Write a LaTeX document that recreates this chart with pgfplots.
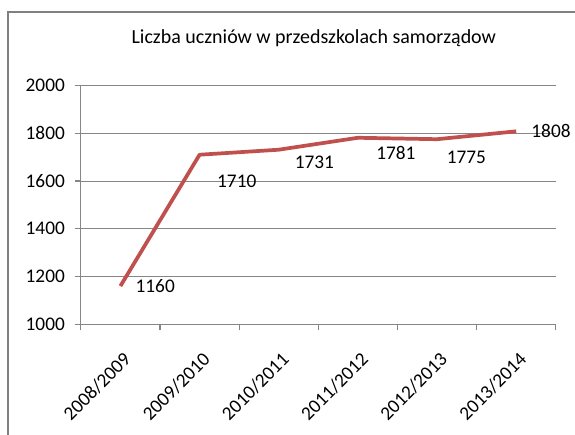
\documentclass[border=0pt]{standalone}
\usepackage{pgfplots}
\pgfplotsset{compat=1.18}
\usepackage{fontspec}
\setmainfont{Carlito}
\definecolor{exred}{RGB}{192,80,77}
\definecolor{exgrid}{RGB}{134,134,134}
\definecolor{exframe}{RGB}{128,128,128}
\begin{document}
\begin{tikzpicture}
\begin{axis}[%
at={(0,0)}, anchor=south west,
width=357pt,
height=179.5pt,
scale only axis,
xmin=-0.5, xmax=5.5,
ymin=1000, ymax=2000,
ytick={1000,1200,...,2000},
xtick={-0.5,0.5,...,5.5},
xticklabels={},
extra x ticks={0,1,2,3,4,5},
extra x tick labels={2008/2009,2009/2010,2010/2011,2011/2012,2012/2013,2013/2014},
extra x tick style={major tick length=0pt, grid=none,
  xticklabel style={rotate=45, anchor=north east, inner sep=1pt, xshift=-12pt, yshift=-14pt}},
axis lines*=left,
axis line style={exgrid, line width=0.8pt},
tick style={exgrid, line width=0.8pt},
tick align=outside,
major tick length=4.5pt,
ymajorgrids,
grid style={exgrid, line width=0.7pt},
ticklabel style={font=\fontsize{14.5}{16}\selectfont, text=black},
yticklabel style={xshift=-4pt},
/pgf/number format/assume math mode=true,
/pgf/number format/1000 sep={},
clip=false,
]
\addplot[color=exred, line width=2.8pt, line join=round] coordinates {
(0,1160) (1,1710) (2,1731) (3,1781) (4,1775) (5,1808)
};
\begin{scope}[font=\fontsize{14.5}{16}\selectfont]
\node at (axis cs:0.44,1160) {1160};
\node at (axis cs:1.47,1597) {1710};
\node at (axis cs:2.45,1677) {1731};
\node at (axis cs:3.48,1718) {1781};
\node at (axis cs:4.37,1700) {1775};
\node at (axis cs:5.44,1808) {1808};
\end{scope}
\end{axis}
\begin{scope}[x=0.75pt, y=0.75pt]
\path[use as bounding box] (-81,-110) rectangle (494,325);
\draw[exframe, line width=1.5pt] (-73,-130) -- (-73,313) -- (520,313);
\node[font=\fontsize{15}{17}\selectfont] at (233.5,287) {Liczba uczniów w przedszkolach samorządow};
\end{scope}
\end{tikzpicture}
\end{document}
